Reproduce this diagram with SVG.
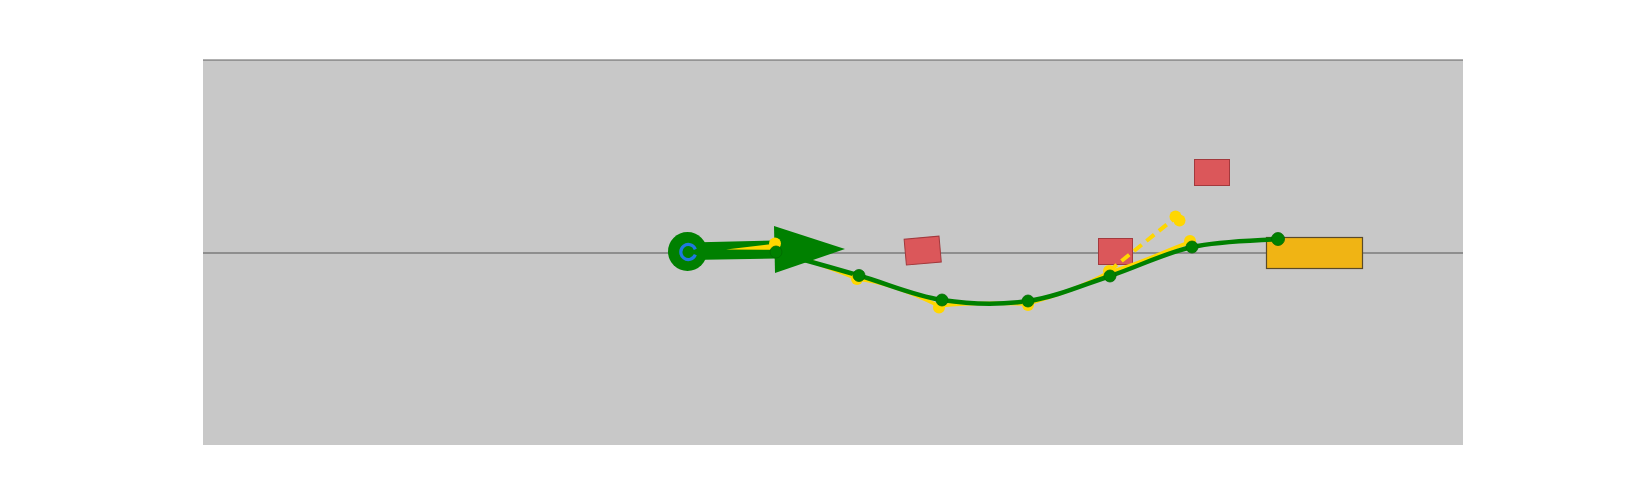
<svg xmlns="http://www.w3.org/2000/svg" width="1625" height="500" viewBox="0 0 1625 500">
<style>
.obs{fill:#db575a;stroke:#a3393d;stroke-width:1}
.gpath{fill:none;stroke:#008000;stroke-width:4.5}
.ypath{fill:none;stroke:#ffd700;stroke-width:3.5}
.gdot{fill:#008000;stroke:#006a00;stroke-width:0.8}
.ydot{fill:#ffd700}
</style>
<rect width="1625" height="500" fill="#ffffff"/>
<g id="field">
<rect x="203" y="60" width="1260" height="385" fill="#c8c8c8"/>
<line x1="203" y1="60" x2="1463" y2="60" stroke="#606060" stroke-width="1"/>
<line x1="203" y1="253" x2="1463" y2="253" stroke="#555555" stroke-width="1"/>
</g>
<g id="obstacle1"><rect class="obs" x="905.2" y="237.6" width="35" height="26" transform="rotate(-5 922.7 250.6)"/></g>
<g id="obstacle2"><rect class="obs" x="1098.5" y="238.5" width="34" height="26"/></g>
<g id="obstacle3"><rect class="obs" x="1194.5" y="159.5" width="35" height="26"/></g>
<g id="goal"><rect x="1266.5" y="237.5" width="96" height="31" fill="#f0b414" stroke="#5a4a28" stroke-width="1.2"/></g>
<g id="connectors">
<path class="ypath" d="M775,243.5 C789.8,255.9 831.3,267.5 857,279 C886.7,282 913.8,293.5 939,306 C970.2,302.5 1000,303 1028,304 C1056,295.5 1082.7,287 1109,272 C1137.3,265 1164,251.2 1190,242"/>
<line x1="1109" y1="271" x2="1175" y2="218" stroke="#ffd700" stroke-width="4" stroke-dasharray="10,6"/>
<path class="gpath" d="M776,252 C789.8,255.9 831.3,267.5 859,275.5 C886.7,283.5 913.8,295.75 942,300 C970.2,304.25 1000,305 1028,301 C1056,297 1082.7,285 1110,276 C1137.3,267 1164,253.2 1192,247 C1220,240.8 1263.7,240.3 1278,239"/>
</g>
<g id="ydots">
<circle class="ydot" cx="857" cy="279" r="6"/>
<circle class="ydot" cx="939" cy="307.5" r="6"/>
<circle class="ydot" cx="1028" cy="305" r="6"/>
<circle class="ydot" cx="1109" cy="271" r="6"/>
<circle class="ydot" cx="1190" cy="241" r="6"/>
<circle class="ydot" cx="1175.5" cy="216.5" r="6"/>
<circle class="ydot" cx="1179.5" cy="220.5" r="6"/>
</g>
<g id="gdots">
<circle class="gdot" cx="859" cy="275.5" r="6"/>
<circle class="gdot" cx="942" cy="300" r="6"/>
<circle class="gdot" cx="1028" cy="301" r="6"/>
<circle class="gdot" cx="1110" cy="276" r="6"/>
<circle class="gdot" cx="1192" cy="247" r="6"/>
<circle class="gdot" cx="1278" cy="239" r="6.5"/>
</g>
<g id="start">
<circle cx="687.5" cy="251.5" r="19.5" fill="#008000"/>
<polygon points="690,242.5 776,240.5 776,258.5 690,260" fill="#008000"/>
<polygon points="774,226 845,249 775,273" fill="#008000"/>
<polygon points="726,249.5 772,244 772,249.8" fill="#ffd700"/>
<path d="M695.3,249.3 A7.5,7.5 0 1 0 695.3,254.7" fill="none" stroke="#1f78e0" stroke-width="3.2"/>
<circle class="ydot" cx="775" cy="243.5" r="6"/>
<circle class="gdot" cx="776" cy="252" r="6"/>
</g>
</svg>
